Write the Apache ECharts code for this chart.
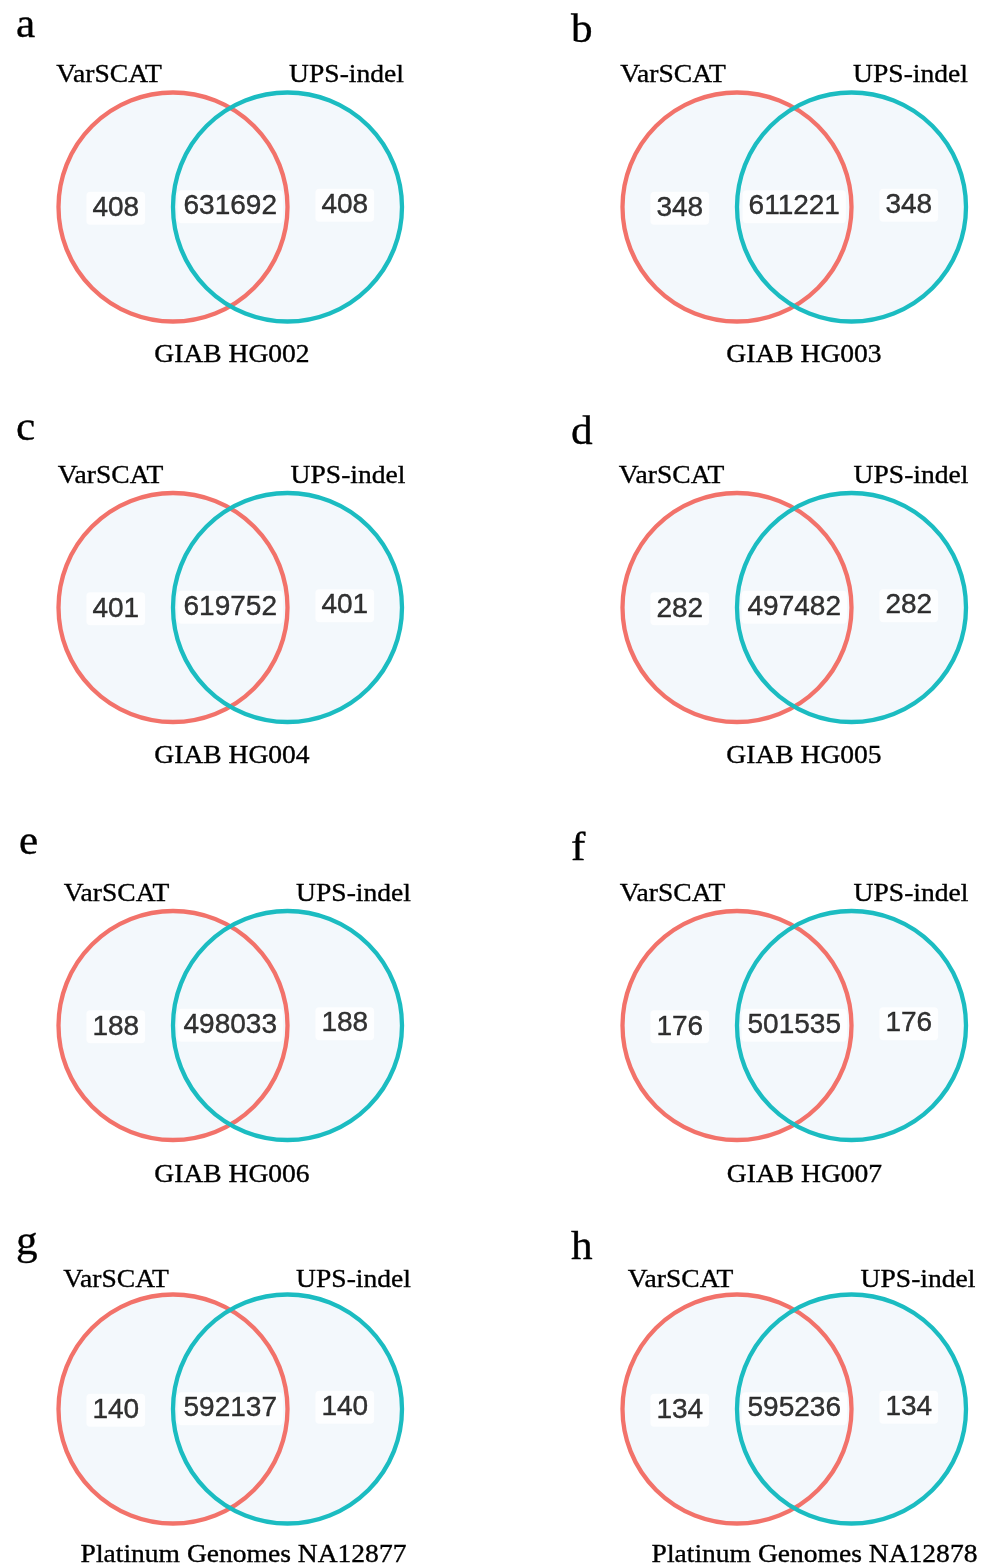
<!DOCTYPE html>
<html>
<head>
<meta charset="utf-8">
<script src="https://cdn.jsdelivr.net/npm/echarts@6/dist/echarts.min.js"></script>
<style>
  html, body { margin: 0; padding: 0; background: #ffffff; }
  #chart { width: 990px; height: 1568px; }
</style>
</head>
<body>
<div id="chart"></div>
<script>
// ---- data ----
const panelLetters = ['a', 'b', 'c', 'd', 'e', 'f', 'g', 'h'];
const sampleNames = [
  'GIAB HG002', 'GIAB HG003', 'GIAB HG004', 'GIAB HG005',
  'GIAB HG006', 'GIAB HG007', 'Platinum Genomes NA12877', 'Platinum Genomes NA12878'
];
const setNames = ['VarSCAT', 'UPS-indel'];
const onlyVarSCAT = [408, 348, 401, 282, 188, 176, 140, 134];
const sharedIndels = [631692, 611221, 619752, 497482, 498033, 501535, 592137, 595236];
const onlyUPSindel = [408, 348, 401, 282, 188, 176, 140, 134];

// ---- layout ----
const colCenterX = [173, 737];             // centre of the VarSCAT circle, per column
const rowCenterY = [207, 607.5, 1025.5, 1409];
const unitPx = 114.5;                      // one circle radius in pixels
// Venn geometry in axis units: radius 1, second centre shifted by 1
const circles = [[0, 0, 1], [1, 0, 1]];
const regionAnchors = [[-0.5, -0.012], [0.5, 0.002], [1.5, 0.016]];
const nameOffsetX = [[-64, 173.5], [-64, 173.5], [-62.5, 175], [-65.5, 174],
                     [-56.5, 180.5], [-64.5, 174], [-57, 180.5], [-56.5, 181]];
const nameOffsetY = [-131.5, -131, -131, -129];
const captionOffsetX = [59, 67, 59, 67, 59, 67.5, 70.5, 77.5];
const captionOffsetY = [148, 148.5, 149.5, 146];
const letterPos = [[16, 26], [571, 31], [16, 429], [571, 433],
                   [19, 843], [571, 849], [16, 1243], [571, 1248]];

const colors = { varscat: '#F2726A', ups: '#1BBCC1', fill: '#F3F8FC' };
const serif = '"Liberation Serif", "Times New Roman", serif';
const sans = '"Liberation Sans", Arial, Helvetica, sans-serif';
const serifStretch = 1.08;

const chart = echarts.init(document.getElementById('chart'), null, { renderer: 'canvas' });

const grids = [], xAxes = [], yAxes = [], series = [], graphics = [];

function serifText(text, x, y, size, align) {
  return {
    type: 'text', x: x, y: y, scaleX: serifStretch, silent: true,
    style: { text: text, font: size + 'px ' + serif, fill: '#000',
             stroke: '#000', lineWidth: 0.35,
             textAlign: align, textVerticalAlign: 'middle' }
  };
}

panelLetters.forEach(function (letter, i) {
  const col = i % 2, row = Math.floor(i / 2);
  const cx = colCenterX[col], cy = rowCenterY[row];
  grids.push({ left: cx - unitPx, top: cy - unitPx, width: unitPx * 3, height: unitPx * 2 });
  xAxes.push({ gridIndex: i, type: 'value', min: -1, max: 2, show: false });
  yAxes.push({ gridIndex: i, type: 'value', min: -1, max: 1, show: false });

  // circle fills (underneath everything)
  series.push({
    type: 'custom', xAxisIndex: i, yAxisIndex: i, z: 1, silent: true,
    data: circles,
    renderItem: function (params, api) {
      const c = api.coord([api.value(0), api.value(1)]);
      const r = api.size([api.value(2), 0])[0];
      return { type: 'circle', shape: { cx: c[0], cy: c[1], r: r },
               style: { fill: colors.fill, stroke: null } };
    }
  });

  // circle outlines
  series.push({
    type: 'custom', xAxisIndex: i, yAxisIndex: i, z: 2, silent: true,
    data: circles,
    renderItem: function (params, api) {
      const c = api.coord([api.value(0), api.value(1)]);
      const r = api.size([api.value(2), 0])[0];
      return { type: 'circle', shape: { cx: c[0], cy: c[1], r: r },
               style: { fill: null, lineWidth: 4.3,
                        stroke: params.dataIndex === 0 ? colors.varscat : colors.ups } };
    }
  });

  // region counts
  series.push({
    type: 'scatter', xAxisIndex: i, yAxisIndex: i, z: 5, silent: true,
    symbolSize: 0,
    data: [
      [regionAnchors[0][0], regionAnchors[0][1], onlyVarSCAT[i]],
      [regionAnchors[1][0], regionAnchors[1][1], sharedIndels[i]],
      [regionAnchors[2][0], regionAnchors[2][1], onlyUPSindel[i]]
    ],
    label: {
      show: true, position: 'inside',
      formatter: function (p) { return String(p.value[2]); },
      fontFamily: sans, fontSize: 28, color: '#000',
      textBorderColor: '#000', textBorderWidth: 0.4,
      backgroundColor: '#ffffff', borderRadius: 4,
      padding: [2.5, 6], lineHeight: 28
    }
  });

  // set names, sample caption and panel letter
  graphics.push(serifText(setNames[0], cx + nameOffsetX[i][0], cy + nameOffsetY[row], 25.5, 'center'));
  graphics.push(serifText(setNames[1], cx + nameOffsetX[i][1], cy + nameOffsetY[row], 25.5, 'center'));
  graphics.push(serifText(sampleNames[i], cx + captionOffsetX[i], cy + captionOffsetY[row], 25.5, 'center'));
  graphics.push(serifText(letter, letterPos[i][0], letterPos[i][1], 40, 'left'));
});

chart.setOption({
  backgroundColor: '#ffffff',
  animation: false,
  grid: grids,
  xAxis: xAxes,
  yAxis: yAxes,
  series: series,
  graphic: graphics
});
</script>
</body>
</html>
